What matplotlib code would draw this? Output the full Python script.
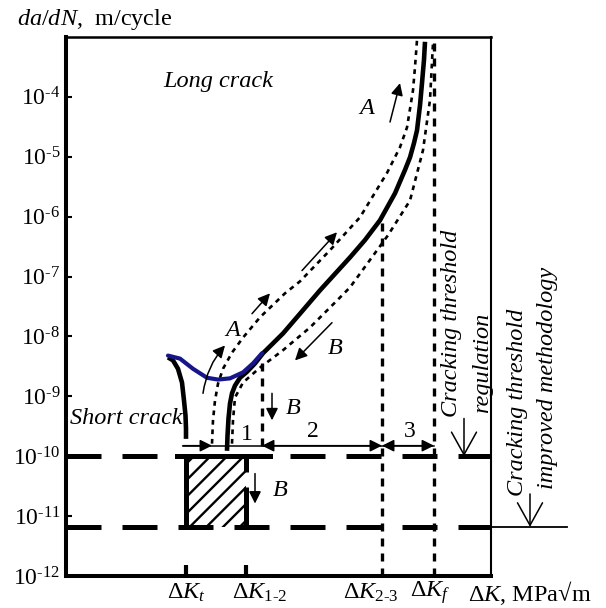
"""Schematic fatigue crack growth diagram: long / short crack, thresholds"""

import numpy as np
import matplotlib.pyplot as plt
from matplotlib.transforms import blended_transform_factory

plt.rcParams['font.family'] = ['Liberation Serif', 'DejaVu Serif']
plt.rcParams['mathtext.fontset'] = 'custom'
plt.rcParams['mathtext.rm'] = 'Liberation Serif'
plt.rcParams['mathtext.it'] = 'Liberation Serif:italic'
plt.rcParams['mathtext.bf'] = 'Liberation Serif:bold'
plt.rcParams['hatch.linewidth'] = 1.7

# schematic dK axis (arbitrary units), da/dN kept as log10 values
long_x = [227, 227.5, 228.5, 230, 232, 235, 240, 247, 255, 263, 283, 300, 320,
          350, 365, 380, 395, 405, 410, 414, 417, 420, 422, 424, 425]
long_log = [-9.91, -9.66, -9.37, -9.12, -8.95, -8.82, -8.69, -8.59, -8.45, -8.28,
            -7.95, -7.62, -7.23, -6.68, -6.39, -6.06, -5.61, -5.22, -5.01, -4.77,
            -4.56, -4.14, -3.77, -3.38, -3.08]

short_x = [168, 173, 178, 182, 184, 185.5, 186, 186]
short_log = [-8.35, -8.40, -8.54, -8.77, -9.07, -9.32, -9.54, -9.71]

blue_x = [168, 180, 193, 207, 218, 230, 243, 253, 262]
blue_log = [-8.32, -8.37, -8.54, -8.69, -8.72, -8.70, -8.60, -8.45, -8.28]

upA_x = [212, 213, 215, 218, 223, 232, 243, 260, 285, 300, 330, 360, 387, 400,
         407, 413, 415, 417]
upA_log = [-9.79, -9.40, -9.07, -8.79, -8.54, -8.27, -8.02, -7.68, -7.28, -7.08,
           -6.56, -6.01, -5.27, -4.84, -4.51, -3.89, -3.50, -3.05]

lowB_x = [232, 233, 235, 243, 260, 283, 310, 337, 350, 388, 410, 423, 430, 433]
lowB_log = [-9.79, -9.40, -9.02, -8.77, -8.52, -8.23, -7.85, -7.40, -7.18, -6.31,
            -5.73, -4.89, -4.05, -3.10]

dK_t, dK_12, dK_23, dK_f = 186, 246, 382, 434
dK_1 = 262
thr_reg = 1e-10
thr_new = 6.6e-12
dim_y = 1.5e-10

ytick_exp = [-12, -11, -10, -9, -8, -7, -6, -5, -4]
xlabels = [r'$\mathit{ΔK}_{\mathit{t}}$', r'$\mathit{ΔK}_{\text{1-2}}$',
           r'$\mathit{ΔK}_{\text{2-3}}$', r'$\mathit{ΔK}_{\mathit{f}}$',
           r'$\mathit{ΔK}$, MPa√m']
xlabel_pos = [167, 232, 343, 410, 468]


def arrow(ax, start, end, style='-|>', lw=1.1, scale=18, rad=0.0):
    ax.annotate('', xy=end, xytext=start, annotation_clip=False,
                arrowprops=dict(arrowstyle=style, color='black', lw=lw,
                                mutation_scale=scale, shrinkA=0, shrinkB=0,
                                connectionstyle=f'arc3,rad={rad}'))


def main():
    fig = plt.figure(figsize=(6.06, 6.08), dpi=100)
    ax = fig.add_axes([66 / 606, 1 - 576 / 608, 425 / 606, 539 / 608])
    ax.set_yscale('log')
    ax.set_xlim(66, 491)
    ax.set_ylim(1e-12, 1e-3)

    # spines
    ax.spines['left'].set_linewidth(2.9)
    ax.spines['bottom'].set_linewidth(2.9)
    ax.spines['top'].set_linewidth(1.8)
    ax.spines['right'].set_linewidth(1.5)

    ax.set_yticks([10.0 ** e for e in ytick_exp])
    ax.set_yticklabels([r'10$^{\text{%d}}$' % e for e in ytick_exp], fontsize=17)
    ax.yaxis.set_minor_locator(plt.NullLocator())
    ax.tick_params(axis='y', direction='in', length=4.5, width=1.5, pad=4)
    ax.set_xticks([dK_t, dK_12])
    ax.set_xticklabels(['', ''])
    ax.tick_params(axis='x', direction='in', length=8, width=3)

    # threshold dashed lines
    for yv in (thr_reg, thr_new):
        ax.axhline(yv, color='black', lw=3.6, linestyle=(0, (7, 4.2)))
    ax.plot([491, 567], [thr_new, thr_new], color='black', lw=1.3, clip_on=False)

    # hatched zone between dK_t and dK_1-2
    ax.fill_between([dK_t, dK_12], thr_new, thr_reg, facecolor='none',
                    edgecolor='black', hatch='//', linewidth=0)
    ax.plot([dK_t, dK_t], [thr_new, thr_reg], color='black', lw=3.6)
    ax.plot([dK_12, dK_12], [thr_new, thr_reg], color='black', lw=3.6,
            linestyle=(0, (8, 3)))
    ax.plot([177, 270], [thr_reg, thr_reg], color='black', lw=3.6)

    # vertical dotted markers
    vdot = dict(color='black', lw=2.4, linestyle=(0, (2.4, 2.1)))
    ax.plot([dK_f, dK_f], [1e-12, 10 ** -3.05], **vdot)
    ax.plot([dK_23, dK_23], [1e-12, 10 ** -6.06], **vdot)
    ax.plot([dK_1, dK_1], [dim_y, 10 ** -8.42], **vdot)

    # curves
    cdot = dict(color='black', lw=1.9, linestyle=(0, (1.8, 1.8)))
    ax.plot(upA_x, 10 ** np.array(upA_log), **cdot)
    ax.plot(lowB_x, 10 ** np.array(lowB_log), **cdot)
    ax.plot(long_x, 10 ** np.array(long_log), color='black', lw=3.3,
            solid_capstyle='butt')
    ax.plot(short_x, 10 ** np.array(short_log), color='black', lw=3.3,
            solid_capstyle='butt')
    ax.plot(blue_x, 10 ** np.array(blue_log), color='#16168a', lw=3.0,
            solid_capstyle='round')

    # dimension line 1-2-3
    ax.plot([183, dK_f], [dim_y, dim_y], color='black', lw=1.1)
    arrow(ax, (183, dim_y), (212, dim_y))
    arrow(ax, (dK_1, dim_y), (dK_23, dim_y), style='<|-|>')
    arrow(ax, (dK_23, dim_y), (dK_f, dim_y), style='<|-|>')
    num = dict(fontsize=17, ha='center', va='center')
    ax.text(247, 10 ** -9.64, '1', **num)
    ax.text(313, 10 ** -9.59, '2', **num)
    ax.text(410, 10 ** -9.59, '3', **num)

    # A / B direction arrows
    arrow(ax, (203, 10 ** -8.95), (225, 10 ** -8.15), rad=-0.15)
    arrow(ax, (252, 10 ** -7.62), (270, 10 ** -7.28))
    arrow(ax, (302, 10 ** -6.90), (337, 10 ** -6.26))
    arrow(ax, (390, 10 ** -4.42), (400, 10 ** -3.77))
    arrow(ax, (332, 10 ** -7.77), (295, 10 ** -8.40))
    arrow(ax, (272, 10 ** -8.95), (272, 10 ** -9.40))
    arrow(ax, (255, 10 ** -10.29), (255, 10 ** -10.79))
    it = dict(fontsize=17.5, style='italic', ha='center', va='center')
    ax.text(233, 10 ** -7.90, 'A', **it)
    ax.text(367, 10 ** -4.19, 'A', **it)
    ax.text(335, 10 ** -8.20, 'B', **it)
    ax.text(293, 10 ** -9.20, 'B', **it)
    ax.text(280, 10 ** -10.58, 'B', **it)

    ax.text(218, 10 ** -3.75, 'Long crack', **it)
    ax.text(70, 10 ** -9.37, 'Short crack', fontsize=17.5, style='italic',
            ha='left', va='center')

    # threshold annotations
    head = '->, head_length=0.9, head_width=0.5'
    arrow(ax, (464, 10 ** -9.37), (464, 10 ** -10.0), style=head, scale=18)
    arrow(ax, (530, 10 ** -10.63), (530, 10 ** -11.18), style=head, scale=18)
    rot = dict(fontsize=17.5, style='italic', rotation=90, ha='center',
               va='bottom', clip_on=False)
    ax.text(452, 10 ** -9.35, 'Cracking threshold', **rot)
    ax.text(483, 10 ** -9.27, 'regulation', **rot)
    ax.text(518, 10 ** -10.66, 'Cracking threshold', **rot)
    ax.text(548, 10 ** -10.54, 'improved methodology', **rot)

    # axis labels
    trans = blended_transform_factory(ax.transData, fig.transFigure)
    for lab, xp in zip(xlabels, xlabel_pos):
        ax.text(xp, 1 - 593 / 608, lab, transform=trans, fontsize=17.5,
                ha='left', va='center')
    fig.text(17 / 606, 1 - 20 / 608, r'$\mathit{da/dN}$,  m/cycle',
             fontsize=17.5, ha='left', va='center')

    fig.savefig('out.png', dpi=100)
    plt.close(fig)


if __name__ == "__main__":
    main()
